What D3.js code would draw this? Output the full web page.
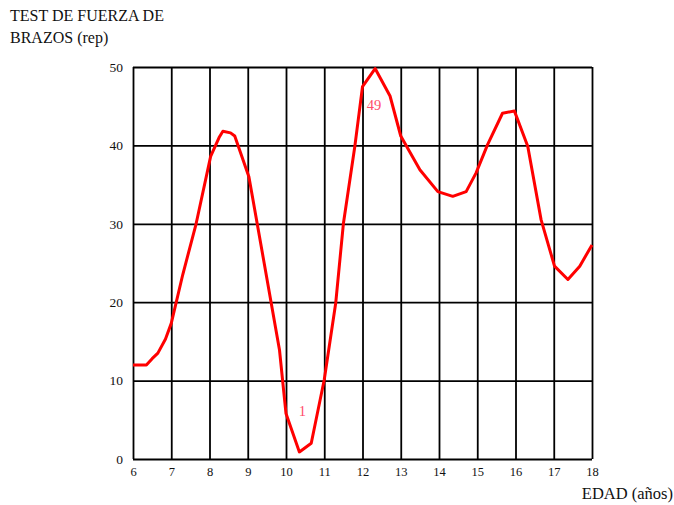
<!DOCTYPE html>
<html lang="es">
<head>
	<meta charset="UTF-8">
	<title>Test de fuerza de brazos</title>
	<script src="https://cdn.jsdelivr.net/npm/d3@7"></script>
	<style>
		body { margin: 0; background: #fff; }
		text { font-family: "Liberation Serif", "DejaVu Serif", serif; fill: #111; }
		.grid line, .grid path { stroke: #000; stroke-width: 1.8; }
	</style>
</head>
<body>
	<div id="vis"></div>
	<script>
		var width = 674;
		var height = 505;

		// edad (años) y repeticiones
		var edad = [6, 6.35, 6.5, 6.65, 6.85, 7.0, 7.3, 7.65, 8.03, 8.25, 8.35, 8.55, 8.66, 9.03, 9.4, 9.83, 10.0, 10.35, 10.66, 11.0, 11.3, 11.5, 11.8, 12.0, 12.33, 12.72, 13.0, 13.5, 13.97, 14.36, 14.71, 14.97, 15.27, 15.66, 15.97, 16.32, 16.67, 17.02, 17.37, 17.68, 18.0];
		var reps = [12, 12, 12.8, 13.5, 15.3, 17.3, 23.5, 30, 38.6, 41, 41.8, 41.6, 41.2, 36, 25.8, 13.9, 5.8, 0.9, 2, 10.1, 19.9, 30, 39.9, 47.5, 49.8, 46.3, 41.2, 36.9, 34.1, 33.5, 34.1, 36.5, 40.1, 44.1, 44.4, 39.9, 30.5, 24.6, 22.9, 24.6, 27.3];

		var xTicks = [6, 7, 8, 9, 10, 11, 12, 13, 14, 15, 16, 17, 18];
		var yTicks = [0, 10, 20, 30, 40, 50];

		// etiquetas de valores extremos
		var etiquetas = [{x: 10.4, y: 1, texto: "1"}, {x: 12.33, y: 49.8, texto: "49"}];

		var margin = {left: 133, right: 82, top: 67, bottom: 46};
		var w = width - margin.left - margin.right;
		var h = height - margin.top - margin.bottom;

		var svg = d3.select("#vis").append("svg")
			.attr("width", width)
			.attr("height", height);

		var x = d3.scaleLinear().domain([6, 18]).range([0, w]);
		var y = d3.scaleLinear().domain([0, 50]).range([h, 0]);

		var g = svg.append("g").attr("transform", "translate(" + margin.left + "," + margin.top + ")");

		// rejilla vertical + etiquetas de x
		var xAxis = g.append("g")
			.attr("class", "grid")
			.attr("transform", "translate(0," + h + ")")
			.call(d3.axisBottom(x).tickValues(xTicks).tickSize(-h).tickSizeOuter(0).tickPadding(6).tickFormat(d3.format("d")));
		xAxis.select(".domain").remove();
		xAxis.selectAll("text").attr("font-size", 12.5).attr("dy", "0.9em");

		// rejilla horizontal + etiquetas de y
		var yAxis = g.append("g")
			.attr("class", "grid")
			.call(d3.axisLeft(y).tickValues(yTicks).tickSize(-w).tickSizeOuter(0).tickPadding(10));
		yAxis.select(".domain").remove();
		yAxis.selectAll("text").attr("font-size", 13.5);

		// la curva
		var line = d3.line()
			.x(function(d, i) { return x(edad[i]); })
			.y(function(d) { return y(d); });

		g.append("path")
			.datum(reps)
			.attr("d", line)
			.attr("fill", "none")
			.attr("stroke", "#ff0000")
			.attr("stroke-width", 3)
			.attr("stroke-linejoin", "round");

		g.selectAll(".etiqueta")
			.data(etiquetas)
			.enter().append("text")
			.attr("class", "etiqueta")
			.attr("x", function(d) { return d.texto == "1" ? x(d.x) + 1 : x(d.x) - 1; })
			.attr("y", function(d) { return d.texto == "1" ? y(d.y) - 35 : y(d.y) + 41; })
			.attr("text-anchor", "middle")
			.attr("font-size", 14.5)
			.style("fill", "#ff4d6a")
			.text(function(d) { return d.texto; });

		// títulos
		svg.append("text").attr("x", 10).attr("y", 21).attr("font-size", 16).text("TEST DE FUERZA DE");
		svg.append("text").attr("x", 10).attr("y", 43).attr("font-size", 16).text("BRAZOS (rep)");
		svg.append("text").attr("x", 673).attr("y", 499).attr("text-anchor", "end").attr("font-size", 16.5).text("EDAD (años)");
	</script>
</body>
</html>
